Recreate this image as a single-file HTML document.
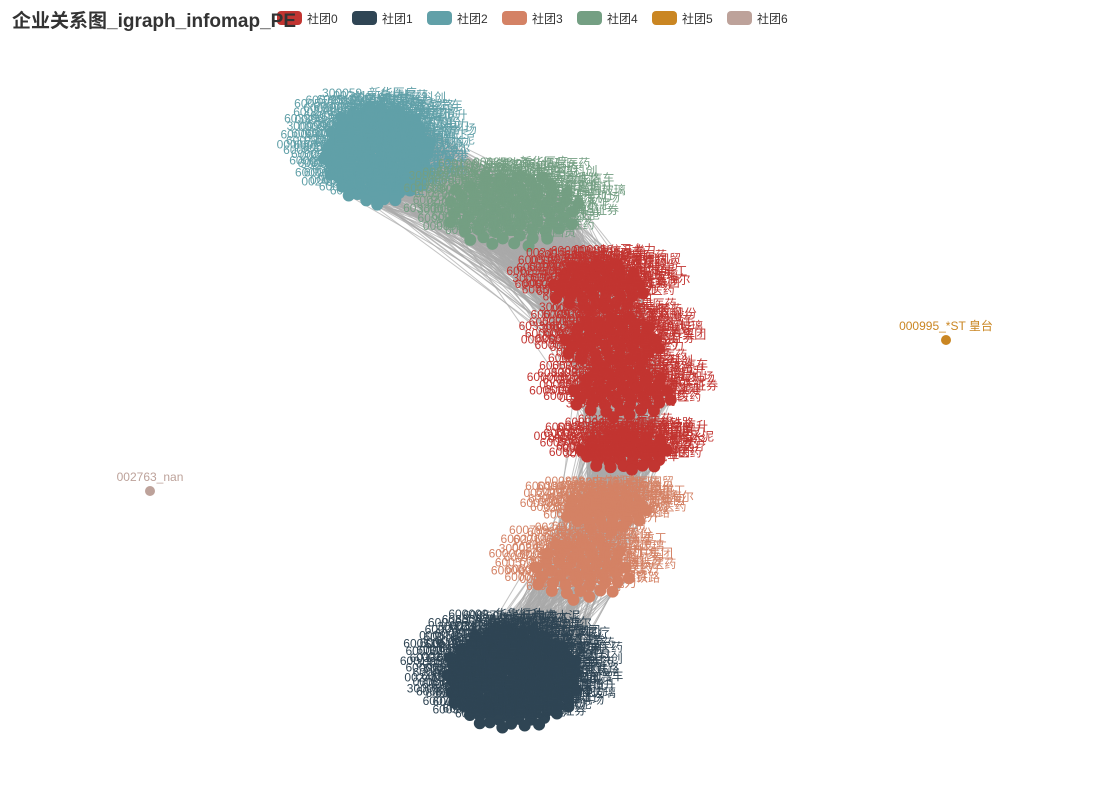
<!DOCTYPE html>
<html><head><meta charset="utf-8"><style>
html,body{margin:0;padding:0;background:#fff;width:1102px;height:789px;overflow:hidden}
svg{display:block}
text{font-family:"Liberation Sans","Noto Sans CJK SC",sans-serif}
</style></head><body>
<svg id="chart" width="1102" height="789">
<g id="edges"></g>
<g id="nodes"></g>
<g id="legend"></g>
<text x="12" y="27" font-size="19" font-weight="bold" fill="#333" font-family="'Liberation Sans','Noto Sans CJK SC',sans-serif">企业关系图_igraph_infomap_PE</text>
</svg>
<script>
const communities = ["社团0","社团1","社团2","社团3","社团4","社团5","社团6"];
const colors = ["#c23531","#2f4554","#61a0a8","#d48265","#749f83","#ca8622","#bda29a"];
// clusters: community index, center x, center y, half-width, half-height, node count
const clusterCommunity = [2,4,0,0,0,0,3,3,1,5,6];
const clusterCx = [378,512,598,612,622,625,605,582,512,946,150];
const clusterCy = [155,210,287,342,393,452,512,570,678,340,491];
const clusterRx = [55,68,48,50,52,45,42,50,68,0,0];
const clusterRy = [50,38,25,26,26,20,20,32,52,0,0];
const clusterN = [110,70,45,45,45,40,35,45,140,1,1];
const singleLabels = {9:"000995_*ST 皇台",10:"002763_nan"};
const names = ["东风股份","金龙汽车","华鲁恒升","长江电力","中国重工","福耀玻璃","上海机场","海螺水泥","青岛海尔","东方集团","中信证券","宁波港","新华医疗","鲁抗医药","天士力","复星医药","恒瑞医药","兰花科创","大秦铁路","中国国贸"];
const codes = ["600789","600572","600009","600196","600276","603306","600066","002415","300059","600004","000858","600519"];

const NS="http://www.w3.org/2000/svg";
const edges=document.getElementById('edges'),nodesG=document.getElementById('nodes'),legend=document.getElementById('legend');
const pos=[];
for(let c=0;c<clusterCx.length;c++){
  const arr=[];const n=clusterN[c];
  for(let i=0;i<n;i++){
    const r=n>1?Math.sqrt((i+0.5)/n):0,a=i*2.39996;
    arr.push([clusterCx[c]+r*clusterRx[c]*Math.cos(a),clusterCy[c]+r*clusterRy[c]*Math.sin(a)]);
  }
  pos.push(arr);
}
function addEdge(a,b){
  const l=document.createElementNS(NS,'line');
  
  
  l.setAttribute('x1',a[0]);l.setAttribute('y1',a[1]);
  l.setAttribute('x2',b[0]);l.setAttribute('y2',b[1]);
  l.setAttribute('stroke','#aaa');l.setAttribute('stroke-width','1');l.setAttribute('stroke-opacity','0.7');
  edges.appendChild(l);
}
for(let c=0;c<8;c++){
  const A=pos[c];
  for(let d=1;d<=3&&c+d<9;d++){
    const B=pos[c+d];
    for(let i=0;i<A.length;i++){
      for(let k=0;k<(d===1?3:1);k++) addEdge(A[i],B[(i*7+k*13)%B.length]);
    }
  }
}
for(let c=0;c<pos.length;c++){
  const col=colors[clusterCommunity[c]];
  pos[c].forEach((p,i)=>{
    const ci=document.createElementNS(NS,'circle');
    
    
    ci.setAttribute('cx',p[0]);ci.setAttribute('cy',p[1]);ci.setAttribute('r',c>=9?5:6);
    ci.setAttribute('fill',col);
    nodesG.appendChild(ci);
  });
  pos[c].forEach((p,i)=>{
    const t=document.createElementNS(NS,'text');
    
    
    t.setAttribute('x',p[0]);t.setAttribute('y',p[1]-10);
    t.setAttribute('text-anchor','middle');t.setAttribute('font-size','12');
    t.setAttribute('fill',col);
    t.textContent=singleLabels[c]||(codes[(i+c)%codes.length]+"_"+names[(i*3+c)%names.length]);
    nodesG.appendChild(t);
  });
}
communities.forEach((name,i)=>{
  const x=277+i*75;
  const r=document.createElementNS(NS,'rect');
  
  
  r.setAttribute('x',x);r.setAttribute('y',11);r.setAttribute('width',25);r.setAttribute('height',14);r.setAttribute('rx',4);
  r.setAttribute('fill',colors[i]);legend.appendChild(r);
  const t=document.createElementNS(NS,'text');
  
  
  t.setAttribute('x',x+30);t.setAttribute('y',23);t.setAttribute('font-size','12');t.setAttribute('fill','#333');
  t.textContent=name;legend.appendChild(t);
});
</script>
</body></html>
